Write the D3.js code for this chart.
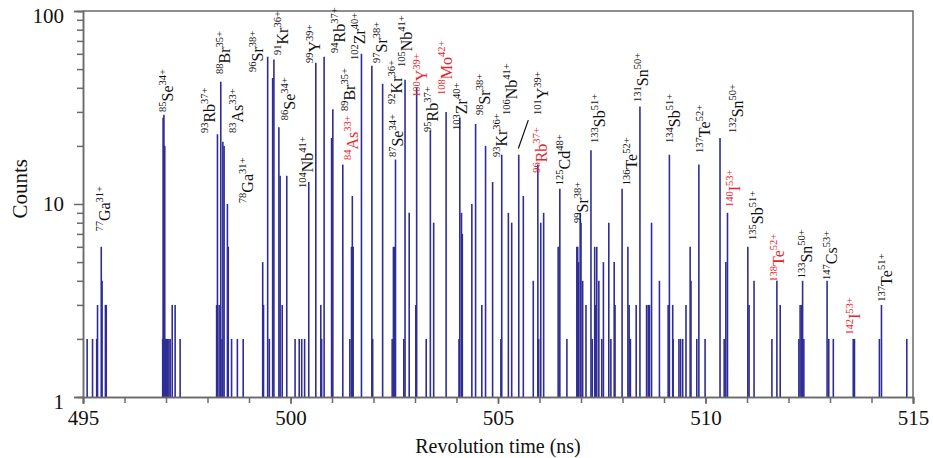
<!DOCTYPE html>
<html>
<head>
<meta charset="utf-8">
<script src="https://cdn.jsdelivr.net/npm/d3@7"></script>
<style>
  body { margin: 0; background: #fff; }
  svg text { font-family: "Liberation Serif", "Times New Roman", Tinos, "DejaVu Serif", "Noto Serif", serif !important; }
</style>
</head>
<body>
<div id="chart"></div>
<script>
// spectrum: revolution time (ns) and counts per bin
const revTimes = [
  495.10, 495.23, 495.33, 495.35, 495.44, 495.46, 495.54, 495.56,
  496.92, 496.93, 496.95, 496.97, 496.99, 497.01, 497.04, 497.07, 497.10, 497.15, 497.22, 497.34,
  498.22, 498.24, 498.28, 498.32, 498.35, 498.37, 498.40, 498.48, 498.50, 498.58, 498.72, 498.86,
  499.33, 499.35, 499.45, 499.49, 499.57, 499.60, 499.72, 499.75, 499.80, 499.91,
  500.11, 500.21, 500.27, 500.34, 500.44, 500.61, 500.73, 500.75, 500.81, 500.99, 501.02,
  501.26, 501.43, 501.47, 501.49, 501.51, 501.71, 501.96, 501.98,
  502.22, 502.45, 502.48, 502.50, 502.53, 502.73, 502.76, 502.86,
  503.02, 503.04, 503.27, 503.37, 503.45, 503.75,
  504.06, 504.08, 504.12, 504.14, 504.37, 504.46, 504.61, 504.70, 504.87,
  505.07, 505.09, 505.25, 505.33, 505.50, 505.61, 505.85, 505.96, 505.98,
  506.03, 506.10, 506.45, 506.49, 506.66, 506.90, 506.92, 506.94, 506.98,
  507.00, 507.04, 507.12, 507.24, 507.27, 507.33, 507.35, 507.38, 507.43, 507.50, 507.54, 507.67, 507.72, 507.80, 507.82, 507.99,
  508.13, 508.16, 508.19, 508.33, 508.42, 508.58, 508.62, 508.65, 508.70, 508.89,
  509.10, 509.13, 509.21, 509.22, 509.36, 509.40, 509.45, 509.53, 509.63, 509.65, 509.79, 509.84, 509.99,
  510.35, 510.45, 510.49, 510.53,
  511.02, 511.05, 511.17, 511.60, 511.72, 511.80, 512.25, 512.28, 512.32, 512.34, 512.37,
  512.93, 512.97, 513.08, 513.56, 513.59, 514.19, 514.24, 514.85
];
const counts = [
  2, 2, 2, 3, 6, 4, 3, 3,
  2, 28, 29, 20, 2, 2, 2, 2, 2, 3, 3, 2,
  3, 23, 3, 43, 2, 21, 20, 10, 6, 2, 2, 2,
  5, 3, 58, 2, 45, 56, 25, 14, 3, 14,
  2, 2, 2, 2, 13, 54, 3, 2, 58, 22, 31,
  16, 2, 6, 11, 6, 60, 52, 2,
  42, 2, 6, 6, 17, 2, 44, 9,
  3, 40, 2, 24, 8, 30,
  2, 28, 9, 7, 10, 26, 3, 20, 13,
  2, 18, 9, 8, 18, 11, 4, 16, 2,
  8, 9, 6, 12, 2, 6, 6, 5, 9,
  8, 4, 3, 19, 2, 6, 3, 6, 4, 2, 5, 8, 2, 5, 3, 12,
  6, 3, 2, 3, 32, 3, 3, 3, 8, 4,
  3, 18, 3, 2, 2, 2, 2, 3, 6, 4, 2, 16, 2,
  22, 2, 5, 9,
  6, 3, 4, 2, 4, 3, 2, 3, 3, 4, 2,
  4, 2, 2, 2, 2, 2, 3, 2
];

// ion labels: mass, element, charge, highlighted
const ions = [
  ["77", "Ga", "31+", 0], ["85", "Se", "34+", 0], ["93", "Rb", "37+", 0], ["88", "Br", "35+", 0],
  ["83", "As", "33+", 0], ["78", "Ga", "31+", 0], ["96", "Sr", "38+", 0], ["91", "Kr", "36+", 0],
  ["86", "Se", "34+", 0], ["104", "Nb", "41+", 0], ["99", "Y", "39+", 0], ["94", "Rb", "37+", 0],
  ["102", "Zr", "40+", 0], ["97", "Sr", "38+", 0], ["105", "Nb", "41+", 0], ["89", "Br", "35+", 0],
  ["92", "Kr", "36+", 0], ["84", "As", "33+", 1], ["87", "Se", "34+", 0], ["100", "Y", "39+", 1],
  ["108", "Mo", "42+", 1], ["95", "Rb", "37+", 0], ["103", "Zr", "40+", 0], ["98", "Sr", "38+", 0],
  ["93", "Kr", "36+", 0], ["106", "Nb", "41+", 0], ["101", "Y", "39+", 0], ["96", "Rb", "37+", 1],
  ["125", "Cd", "48+", 0], ["99", "Sr", "38+", 0], ["133", "Sb", "51+", 0], ["136", "Te", "52+", 0],
  ["131", "Sn", "50+", 0], ["134", "Sb", "51+", 0], ["137", "Te", "52+", 0], ["132", "Sn", "50+", 0],
  ["140", "I", "53+", 1], ["135", "Sb", "51+", 0], ["138", "Te", "52+", 1], ["133", "Sn", "50+", 0],
  ["147", "Cs", "53+", 0], ["142", "I", "53+", 1], ["137", "Te", "51+", 0]
];
// where each label starts (time, counts)
const labelTimes = [
  495.65, 497.17, 498.18, 498.54, 498.86, 499.10, 499.34, 499.94, 500.11, 500.54, 500.71, 501.31,
  501.80, 502.32, 502.92, 501.55, 502.68, 501.63, 502.72, 503.28, 503.88, 503.56, 504.25, 504.81,
  505.21, 505.45, 506.21, 506.17, 506.73, 507.18, 507.58, 508.34, 508.62, 509.39, 510.11, 510.91,
  510.83, 511.39, 511.88, 512.56, 513.16, 513.72, 514.49
];
const labelCounts = [
  7.2, 30, 23.3, 47.2, 23.3, 10.1, 48.3, 59.2, 27.2, 12.1, 53.8, 60.6,
  55.7, 53.8, 51.3, 30.3, 33, 16.9, 17.5, 35.8, 36.7, 23.6, 24.2, 28.9,
  17.5, 28.9, 28.9, 14.5, 12.5, 7.97, 20.7, 12.5, 33.8, 20.7, 18.4, 23.3,
  9.65, 6.51, 3.96, 4.12, 4.04, 2.1, 3.12
];
// leader line for 101Y
const leader = [[505.49, 19.4], [505.73, 27.2]];

const xTicksMajor = [495, 500, 505, 510, 515];
const xTicksMinor = d3.range(495, 516);
const yTicksMajor = [1, 10, 100];
const yTicksMinor = [2, 3, 4, 5, 6, 7, 8, 9, 20, 30, 40, 50, 60, 70, 80, 90];

const width = 933, height = 458;
const margin = { top: 11, right: 20, bottom: 61, left: 83 };
const w = width - margin.left - margin.right;
const h = height - margin.top - margin.bottom;
const serif = '"Liberation Serif", "Times New Roman", Tinos, "DejaVu Serif", serif';

const svg = d3.select('#chart').append('svg')
  .attr('width', width)
  .attr('height', height)
  .attr('font-family', serif);

const g = svg.append('g').attr('transform', `translate(${margin.left},${margin.top})`);

const x = d3.scaleLinear().domain([495, 515]).range([0, w]);
const y = d3.scaleLog().domain([1, 100]).range([h, 0]);

const axisColor = '#6a6a6a';
const spikeColor = '#2f2d95';
const red = '#e8232a';

// spikes
g.selectAll('line.spike')
  .data(revTimes.map((t, i) => [t, counts[i]]))
  .join('line')
  .attr('class', 'spike')
  .attr('x1', d => x(d[0])).attr('x2', d => x(d[0]))
  .attr('y1', y(1)).attr('y2', d => y(d[1]))
  .attr('stroke', spikeColor)
  .attr('stroke-width', 1.6);

// frame
g.append('path')
  .attr('d', `M0,0H${w}V${h}`)
  .attr('fill', 'none')
  .attr('stroke', axisColor)
  .attr('stroke-width', 1.5);

function styleAxis(sel) {
  sel.attr('font-family', serif);
  sel.select('.domain').attr('stroke', axisColor).attr('stroke-width', 1.5);
  sel.selectAll('.tick line').attr('stroke', axisColor).attr('stroke-width', 1.5);
  sel.selectAll('.tick text').attr('fill', '#111').style('font-size', '21px');
}

// x axis
g.append('g').attr('transform', `translate(0,${h})`)
  .call(d3.axisBottom(x).tickValues(xTicksMinor).tickSize(6).tickFormat(''))
  .call(styleAxis);
g.append('g').attr('transform', `translate(0,${h})`)
  .call(d3.axisBottom(x).tickValues(xTicksMajor).tickSize(7).tickPadding(6).tickFormat(d3.format('d')))
  .call(styleAxis);

// y axis
g.append('g')
  .call(d3.axisLeft(y).tickValues(yTicksMinor).tickSize(6).tickFormat(''))
  .call(styleAxis);
const yMaj = g.append('g')
  .call(d3.axisLeft(y).tickValues(yTicksMajor).tickSize(9).tickPadding(10).tickFormat(d3.format('d')))
  .call(styleAxis);
yMaj.selectAll('.tick text').attr('dy', d => d === 10 ? '0.32em' : '0.55em');

// axis titles
svg.append('text')
  .attr('x', margin.left + w / 2).attr('y', 453)
  .attr('text-anchor', 'middle')
  .style('font-size', '20px').attr('fill', '#111')
  .text('Revolution time (ns)');
svg.append('text')
  .attr('transform', `translate(27,${margin.top + y(12)}) rotate(-90)`)
  .attr('text-anchor', 'middle')
  .style('font-size', '21px').attr('fill', '#111')
  .text('Counts');

// ion labels
const lab = g.selectAll('text.ion')
  .data(ions)
  .join('text')
  .attr('class', 'ion')
  .attr('transform', (d, i) => `translate(${x(labelTimes[i])},${y(labelCounts[i])}) rotate(-90)`)
  .attr('fill', d => d[3] ? red : '#111');
lab.append('tspan').attr('dy', -7).style('font-size', '10.5px').text(d => d[0]);
lab.append('tspan').attr('dy', 7).style('font-size', '16px').text(d => d[1]);
lab.append('tspan').attr('dy', -7).style('font-size', '10.5px').text(d => d[2]);

g.append('path')
  .datum(leader)
  .attr('d', d3.line().x(d => x(d[0])).y(d => y(d[1])))
  .attr('stroke', '#111')
  .attr('stroke-width', 1.2)
  .attr('fill', 'none');
</script>
</body>
</html>
